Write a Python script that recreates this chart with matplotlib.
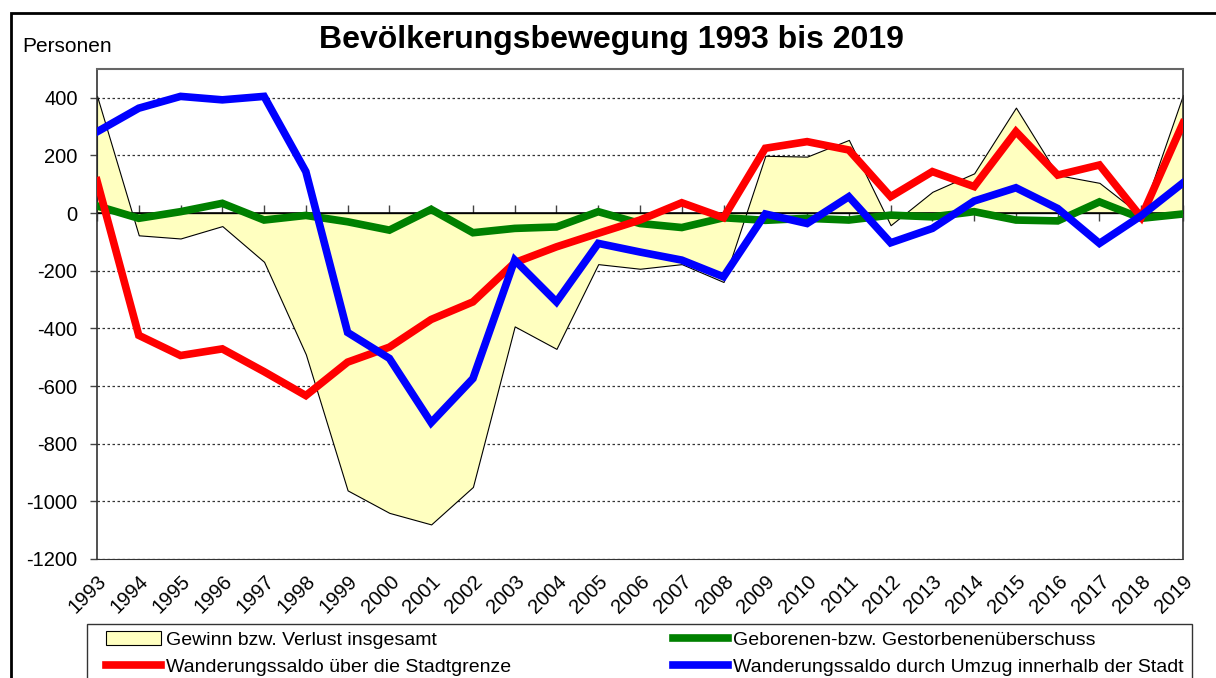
import matplotlib.pyplot as plt
from matplotlib.patches import Rectangle, Patch
from matplotlib.lines import Line2D

plt.rcParams['font.family'] = ['Liberation Sans', 'DejaVu Sans']
plt.rcParams['axes.unicode_minus'] = False

years = list(range(1993, 2020))
year_labels = [str(y) for y in years]

# Gewinn bzw. Verlust insgesamt
total = [407, -77, -88, -45, -169, -490, -962, -1040, -1080, -950,
         -393, -471, -177, -193, -177, -239, 199, 196, 254, -42,
         74, 138, 366, 132, 105, -8, 410]
# Geborenen- bzw. Gestorbenenueberschuss
natural = [25, -18, 5, 34, -24, -8, -30, -59, 13, -68,
           -53, -48, 5, -36, -50, -16, -25, -18, -24, -7,
           -13, 5, -24, -27, 39, -18, -3]
# Wanderungssaldo ueber die Stadtgrenze
external = [112, -424, -494, -471, -550, -633, -517, -465, -369, -308,
            -172, -117, -70, -24, 36, -16, 225, 248, 219, 57,
            144, 92, 283, 132, 167, -14, 312]
# Wanderungssaldo durch Umzug innerhalb der Stadt
internal = [282, 364, 405, 393, 405, 144, -414, -504, -727, -574,
            -163, -308, -105, -135, -163, -221, -3, -36, 57, -103,
            -53, 42, 88, 16, -105, -9, 105]

yticks = list(range(-1200, 401, 200))

fig = plt.figure(figsize=(12.16, 6.78), dpi=100)
ax = fig.add_axes([97 / 1216, 1 - 559 / 678, (1183 - 97) / 1216, (559 - 69) / 678])

ax.fill_between(years, total, 0, facecolor='#FFFFC0', edgecolor='black', linewidth=0.8, zorder=2)
ax.plot(years, natural, color='#008000', lw=5.5, solid_joinstyle='miter', zorder=3)
ax.plot(years, external, color='#FF0000', lw=5.5, solid_joinstyle='miter', zorder=4)
ax.plot(years, internal, color='#0000FF', lw=5.5, solid_joinstyle='miter', zorder=5)

ax.set_xlim(years[0], years[-1])
ax.set_ylim(-1200, 500)
ax.set_yticks(yticks)
ax.tick_params(axis='y', labelsize=14.5, length=5, width=1, color='#444444', pad=9)
for t in yticks:
    if t != 0:
        ax.axhline(t, color='#333333', lw=0.9, ls=(0, (2, 2)), zorder=1)

ax.set_xticks(years, year_labels, rotation=45, ha='right', va='top',
              rotation_mode='anchor', fontsize=14.5)
ax.tick_params(axis='x', length=0, pad=9)

# category axis crossing at zero
ax.axhline(0, color='black', lw=1.2, zorder=2.5)
sec = ax.secondary_xaxis(1200 / 1700)
sec.set_xticks(years, [''] * len(years))
sec.tick_params(direction='inout', length=12, width=1, color='#444444')
sec.spines['bottom'].set_visible(False)
sec.spines['top'].set_visible(False)

for s in ['left', 'right']:
    ax.spines[s].set_color('#333333')
    ax.spines[s].set_linewidth(1.2)
ax.spines['top'].set_color('#666666')
ax.spines['top'].set_linewidth(1.5)
ax.spines['bottom'].set_color('#333333')
ax.spines['bottom'].set_linestyle((0, (2, 1)))

fig.text(0.503, 1 - 40 / 678, 'Bevölkerungsbewegung 1993 bis 2019',
         ha='center', va='center', fontsize=23, fontweight='bold')
fig.text(22 / 1216, 1 - 47 / 678, 'Personen', ha='left', va='center', fontsize=15)

handles = [
    Patch(facecolor='#FFFFC0', edgecolor='black', linewidth=0.8),
    Line2D([], [], color='#FF0000', lw=5.5),
    Line2D([], [], color='#008000', lw=5.5),
    Line2D([], [], color='#0000FF', lw=5.5),
]
labels = ['Gewinn bzw. Verlust insgesamt',
          'Wanderungssaldo über die Stadtgrenze',
          'Geborenen-bzw. Gestorbenenüberschuss',
          'Wanderungssaldo durch Umzug innerhalb der Stadt']
fig.legend(handles, labels, ncol=2, loc='upper left', mode='expand',
           bbox_to_anchor=(106 / 1216, 1 - 632 / 678, (1184 - 106) / 1216, 0.001),
           frameon=False, fontsize=14, handlelength=2.85, handletextpad=0.26,
           borderaxespad=0, borderpad=0, labelspacing=0.5)
fig.add_artist(Rectangle((87 / 1216, -0.1), (1192 - 87) / 1216, 0.1 + 1 - 624 / 678,
                         transform=fig.transFigure, fill=False, lw=1.0, ec='#333333'))

# outer frame
fig.add_artist(Rectangle((11 / 1216, -0.1), 1.2, 0.1 + 1 - 13 / 678,
                         transform=fig.transFigure, fill=False, lw=2, ec='black'))

fig.savefig('out.png', dpi=100)
